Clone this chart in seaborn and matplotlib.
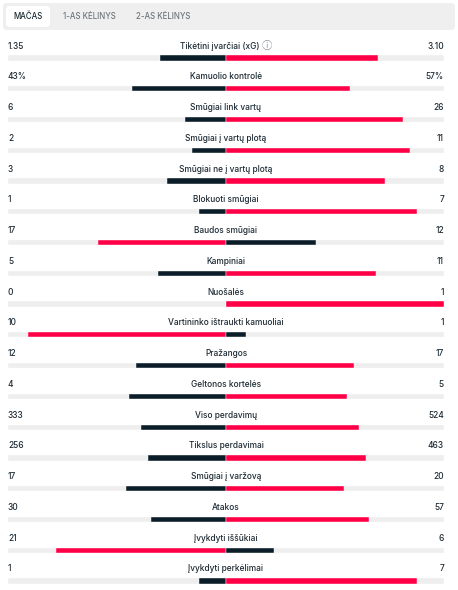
import numpy as np
import pandas as pd
import matplotlib.pyplot as plt
import seaborn as sns
from matplotlib.patches import FancyBboxPatch

# --- data ---
stats = ["Tikėtini įvarčiai (xG)", "Kamuolio kontrolė", "Smūgiai link vartų",
         "Smūgiai į vartų plotą", "Smūgiai ne į vartų plotą", "Blokuoti smūgiai",
         "Baudos smūgiai", "Kampiniai", "Nuošalės", "Vartininko ištraukti kamuoliai",
         "Pražangos", "Geltonos kortelės", "Viso perdavimų", "Tikslus perdavimai",
         "Smūgiai į varžovą", "Atakos", "Įvykdyti iššūkiai", "Įvykdyti perkėlimai"]
home = [1.35, 43, 6, 2, 3, 1, 17, 5, 0, 10, 12, 4, 333, 256, 17, 30, 21, 1]
away = [3.10, 57, 26, 11, 8, 7, 12, 11, 1, 1, 17, 5, 524, 463, 20, 57, 6, 7]
home_txt = ["1.35", "43%", "6", "2", "3", "1", "17", "5", "0", "10", "12", "4",
            "333", "256", "17", "30", "21", "1"]
away_txt = ["3.10", "57%", "26", "11", "8", "7", "12", "11", "1", "1", "17", "5",
            "524", "463", "20", "57", "6", "7"]
tabs = ["MAČAS", "1-AS KĖLINYS", "2-AS KĖLINYS"]

RED = "#ff0046"
DARK = "#0b1d28"
TRACK = "#eeeeee"
TXT = "#1d2a33"

sns.set_theme(style="white")
plt.rcParams["font.family"] = ["Inter", "DejaVu Sans", "Noto Sans CJK JP"]

df = pd.DataFrame({"stat": stats, "home": home, "away": away})
tot = df["home"] + df["away"]
df["h"] = -df["home"] / tot
df["a"] = df["away"] / tot
df["h_side"] = np.where(df["home"] > df["away"], "win", "lose")
df["a_side"] = np.where(df["away"] > df["home"], "win", "lose")
pal = {"win": RED, "lose": DARK}

fig = plt.figure(figsize=(4.58, 5.90), dpi=100)

# tabs header
tab_ax = fig.add_axes([0, 1 - 33 / 590, 1, 33 / 590])
tab_ax.set_xlim(0, 458)
tab_ax.set_ylim(33, 0)
tab_ax.axis("off")
tab_ax.add_patch(FancyBboxPatch((3, 3), 452, 27, boxstyle="round,pad=0,rounding_size=4",
                                fc="#efefef", ec="none"))
tab_ax.add_patch(FancyBboxPatch((6, 6), 44, 21, boxstyle="round,pad=0,rounding_size=4",
                                fc="white", ec="none"))
for x, t, c in zip([28, 89, 163], tabs, [TXT, "#6f767c", "#6f767c"]):
    tab_ax.text(x, 16.5, t, ha="center", va="center", fontsize=5.7, color=c,
                fontweight="medium")

# stat rows
ax = fig.add_axes([8 / 458, 0, 436 / 458, 1 - 35 / 590])
bw = 0.17
sns.barplot(x=[-1.0] * len(stats), y=stats, color=TRACK, width=bw, orient="h",
            saturation=1, ax=ax)
sns.barplot(x=[1.0] * len(stats), y=stats, color=TRACK, width=bw, orient="h",
            saturation=1, ax=ax)
sns.barplot(data=df, x="h", y="stat", hue="h_side", palette=pal, width=bw,
            dodge=False, orient="h", legend=False, saturation=1, ax=ax)
sns.barplot(data=df, x="a", y="stat", hue="a_side", palette=pal, width=bw,
            dodge=False, orient="h", legend=False, saturation=1, ax=ax)
for p in ax.patches:
    p.set_edgecolor("white")
    p.set_linewidth(0.3)

ax.set_xlim(-1, 1)
ax.set_ylim(17.295, -0.748)
ax.axis("off")

dy = 0.39
fs = 6.0
for i, s in enumerate(stats):
    ax.text(-1, i - dy, home_txt[i], ha="left", va="center", fontsize=fs, color=TXT,
            fontweight="medium")
    ax.text(1, i - dy, away_txt[i], ha="right", va="center", fontsize=fs, color=TXT,
            fontweight="medium")
    if i == 0:
        t = ax.text(-0.03, i - dy, s, ha="center", va="center", fontsize=fs, color=TXT,
                    fontweight="medium")
        ax.annotate("ⓘ", xy=(1, 0.5), xycoords=t, xytext=(2, 0),
                    textcoords="offset points", ha="left", va="center",
                    fontsize=7.5, color="#8a9096")
    else:
        ax.text(0, i - dy, s, ha="center", va="center", fontsize=fs, color=TXT,
                fontweight="medium")

fig.savefig("out.png", dpi=100, facecolor="white")
